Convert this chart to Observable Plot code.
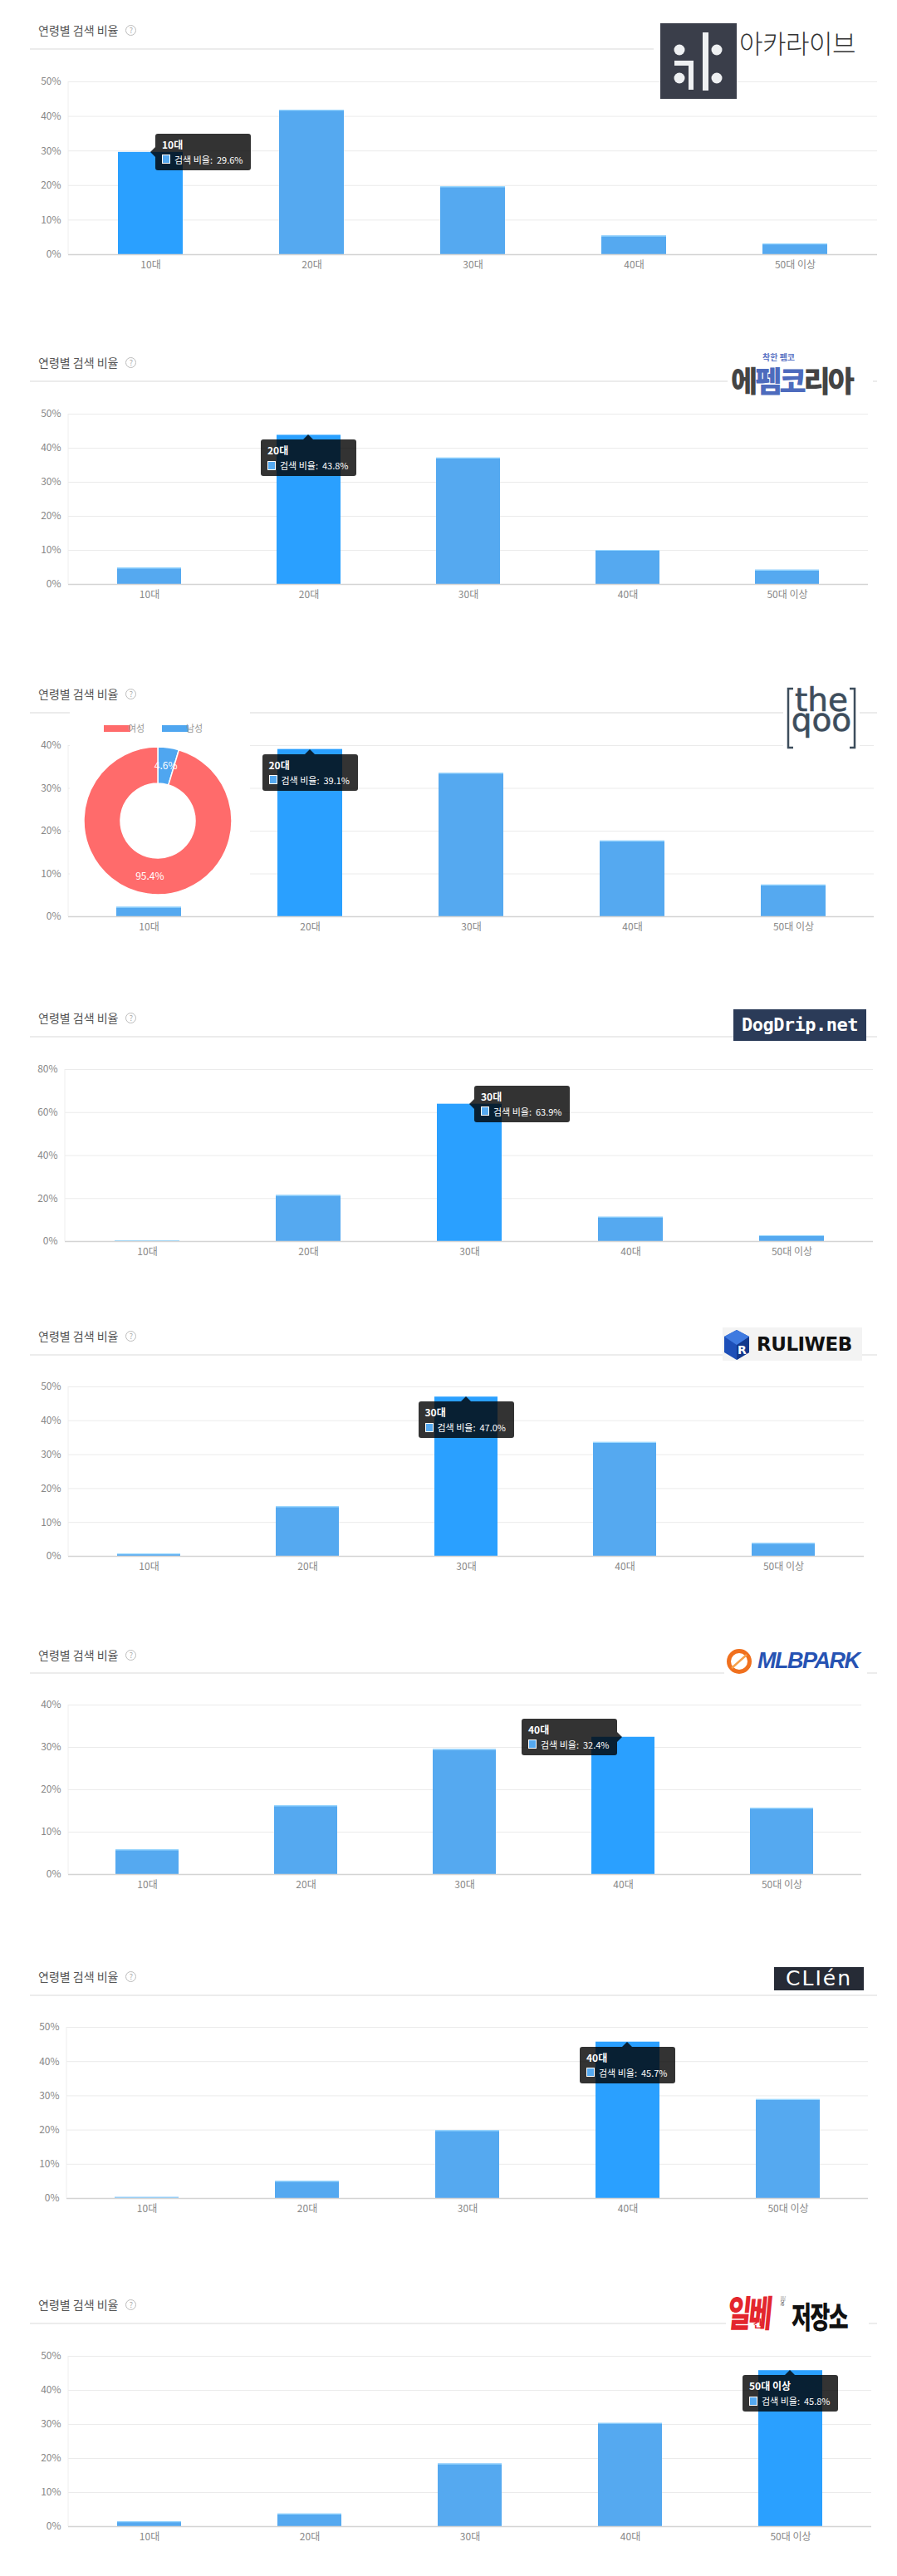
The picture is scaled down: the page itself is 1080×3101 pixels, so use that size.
<!DOCTYPE html>
<html><head><meta charset="utf-8">
<script src="https://cdn.jsdelivr.net/npm/d3@7"></script>
<script src="https://cdn.jsdelivr.net/npm/@observablehq/plot@0.6"></script>
<style>
body{margin:0;background:#fff;font-family:"Noto Sans CJK KR","Noto Sans",sans-serif;}
#page{position:relative;width:1080px;height:3101px;overflow:hidden;background:#fff;}
.abs{position:absolute;}
.title{position:absolute;left:46px;font-size:14px;color:#555;line-height:20px;white-space:nowrap;display:flex;align-items:center;}
.qm{display:inline-block;width:11px;height:11px;border:1px solid #bbb;border-radius:50%;font-size:9px;line-height:11px;text-align:center;color:#aaa;margin-left:9px;}
.hline{position:absolute;left:36px;width:1020px;height:2px;background:#ececec;}
.tip{position:absolute;width:115px;height:44px;box-sizing:border-box;background:rgba(0,0,0,0.8);border-radius:3px;color:#fff;padding:5px 8px;white-space:nowrap;}
.tip .tt{font-size:12px;font-weight:bold;line-height:16px;height:16px;}
.tip .tr{font-size:11px;line-height:16px;margin-top:2px;display:flex;align-items:center;}
.tip .sw{display:inline-block;width:8px;height:9px;background:#55a9f0;border:1px solid #fff;margin-right:5px;}
.arr{position:absolute;width:0;height:0;}
.arr.up{top:-6px;left:51px;border-left:6px solid transparent;border-right:6px solid transparent;border-bottom:6px solid rgba(0,0,0,0.8);}
.arr.left{left:-6px;top:16px;border-top:6px solid transparent;border-bottom:6px solid transparent;border-right:6px solid rgba(0,0,0,0.8);}
.arr.right{right:-6px;top:16px;border-top:6px solid transparent;border-bottom:6px solid transparent;border-left:6px solid rgba(0,0,0,0.8);}
</style></head><body><div id="page"></div>
<script>
// ---- data ----
const ages = ["10대", "20대", "30대", "40대", "50대 이상"];
const arcaValues     = [29.6, 41.8, 19.6, 5.4, 3.1];
const fmkoreaValues  = [4.8, 43.8, 37.1, 10.0, 4.2];
const theqooValues   = [2.2, 39.1, 33.5, 17.7, 7.4];
const dogdripValues  = [0.3, 21.4, 63.9, 11.3, 2.7];
const ruliwebValues  = [0.7, 14.6, 47.0, 33.6, 3.8];
const mlbparkValues  = [5.8, 16.2, 29.5, 32.4, 15.6];
const clienValues    = [0.3, 5.0, 19.8, 45.7, 28.9];
const ilbeValues     = [1.4, 3.7, 18.4, 30.3, 45.8];
const genderLabels = ["여성", "남성"];
const genderValues = [95.4, 4.6];
const ticks50 = [0, 10, 20, 30, 40, 50];
const ticks40 = [0, 10, 20, 30, 40];
const ticks80 = [0, 20, 40, 60, 80];
const titleText = "연령별 검색 비율";
const seriesName = "검색 비율";

// ---- layout ----
const page = document.getElementById("page");
const MT = 60, MB = 40;
const COL = "#55a9f0", HI = "#2aa0ff";
const genderColors = {"여성": "#ff6b6b", "남성": "#4fa6f0"};

const panels = [
  {values: arcaValues, hi: 0, L: 82, R: 1056, top: 98, zero: 306, ticks: ticks50, tip: "left", titleY: 36, lineY: 59},
  {values: fmkoreaValues, hi: 1, L: 82, R: 1045, top: 498, zero: 703, ticks: ticks50, tip: "up", titleY: 436, lineY: 459},
  {values: theqooValues, hi: 1, L: 82, R: 1052, top: 897, zero: 1103, ticks: ticks40, tip: "up", titleY: 835, lineY: 858, donut: true},
  {values: dogdripValues, hi: 2, L: 78, R: 1051, top: 1287, zero: 1494, ticks: ticks80, tip: "left", titleY: 1225, lineY: 1248},
  {values: ruliwebValues, hi: 2, L: 82, R: 1040, top: 1669, zero: 1873, ticks: ticks50, tip: "up", titleY: 1608, lineY: 1631},
  {values: mlbparkValues, hi: 3, L: 82, R: 1037, top: 2052, zero: 2256, ticks: ticks40, tip: "right", titleY: 1992, lineY: 2014},
  {values: clienValues, hi: 3, L: 80, R: 1045, top: 2440, zero: 2646, ticks: ticks50, tip: "up", titleY: 2379, lineY: 2402},
  {values: ilbeValues, hi: 4, L: 82, R: 1049, top: 2836, zero: 3041, ticks: ticks50, tip: "up", titleY: 2774, lineY: 2797}
];

function addHTML(html) {
  const t = document.createElement("template");
  t.innerHTML = html.trim();
  const n = t.content.firstChild;
  page.appendChild(n);
  return n;
}

function donutMark(cfg) {
  const svgTop = cfg.top - MT;
  return function () {
    const g = d3.create("svg:g");
    g.append("rect").attr("x", 84).attr("y", 852 - svgTop).attr("width", 217).attr("height", 236).attr("fill", "#fff");
    const ly = 877 - svgTop;
    const legendX = [125, 195];
    genderLabels.forEach((lab, i) => {
      g.append("rect").attr("x", legendX[i]).attr("y", ly - 4).attr("width", 32).attr("height", 8).attr("fill", genderColors[lab]);
      g.append("text").attr("x", legendX[i] + 39).attr("y", ly).attr("dy", "0.35em")
        .attr("font-size", 11).attr("fill", "#999").text(lab);
    });
    const pieData = genderLabels.map((l, i) => ({label: l, value: genderValues[i]})).reverse();
    const arcs = d3.pie().sort(null).value(d => d.value)(pieData);
    const arc = d3.arc().innerRadius(45).outerRadius(89);
    const lab = d3.arc().innerRadius(67).outerRadius(67);
    const cg = g.append("g").attr("transform", `translate(190,${988 - svgTop})`);
    cg.selectAll("path").data(arcs).join("path").attr("d", arc)
      .attr("fill", d => genderColors[d.data.label]).attr("stroke", "#fff").attr("stroke-width", 1.5);
    cg.selectAll("text").data(arcs).join("text")
      .attr("transform", d => `translate(${lab.centroid(d)})`)
      .attr("text-anchor", "middle").attr("dy", "0.35em").attr("font-size", 12).attr("fill", "#fff")
      .text(d => d.data.value.toFixed(1) + "%");
    return g.node();
  };
}

panels.forEach((cfg, pi) => {
  // title + header line
  addHTML(`<div class="title" style="top:${cfg.titleY - 10}px">${titleText}<span class="qm">?</span></div>`);
  addHTML(`<div class="hline" style="top:${cfg.lineY - 1}px"></div>`);

  const data = ages.map((a, i) => ({age: a, value: cfg.values[i], fill: i === cfg.hi ? HI : COL}));
  const max = cfg.ticks[cfg.ticks.length - 1];
  const height = (cfg.zero - cfg.top) + MT + MB;
  const marks = [
    Plot.ruleY(cfg.ticks.filter(d => d > 0), {stroke: "#ebebeb", strokeWidth: 1}),
    Plot.barY(data, {x: "age", y: "value", fill: "fill"}),
    Plot.tickY(data.filter((d, i) => i !== cfg.hi), {x: "age", y: "value", stroke: "#9ad8ff", strokeWidth: 1.2}),
    Plot.ruleY([0], {stroke: "#d4d4d4", strokeWidth: 1.5}),
    () => d3.create("svg:line").attr("x1", cfg.L).attr("x2", cfg.L).attr("y1", MT).attr("y2", height - MB)
            .attr("stroke", "#eeeeee").attr("stroke-width", 1).node()
  ];
  if (cfg.donut) marks.push(donutMark(cfg));
  const plot = Plot.plot({
    width: 1080, height, marginTop: MT, marginBottom: MB, marginLeft: cfg.L, marginRight: 1080 - cfg.R,
    style: {background: "transparent", fontFamily: '"Noto Sans CJK KR", sans-serif', fontSize: "12px", color: "#888", overflow: "visible"},
    x: {domain: ages, paddingInner: 0.6, paddingOuter: 0.3, label: null, tickSize: 0, tickPadding: 8},
    y: {domain: [0, max], ticks: cfg.ticks, tickFormat: d => d + "%", label: null, tickSize: 0, tickPadding: 9},
    color: {type: "identity"},
    marks
  });
  const svgTop = cfg.top - MT;
  plot.style.position = "absolute";
  plot.style.left = "0px";
  plot.style.top = svgTop + "px";
  page.appendChild(plot);

  // tooltip on the highlighted bar
  const step = (cfg.R - cfg.L) / ages.length;
  let cx = cfg.L + step * (cfg.hi + 0.5);
  let cy = MT + (1 - cfg.values[cfg.hi] / max) * (cfg.zero - cfg.top);
  try {
    const sx = plot.scale("x"), sy = plot.scale("y");
    if (sx && sx.apply && sy && sy.apply) {
      cx = sx.apply(ages[cfg.hi]) + sx.bandwidth / 2;
      cy = sy.apply(cfg.values[cfg.hi]);
    }
  } catch (e) {}
  const py = svgTop + cy;
  let left, top;
  if (cfg.tip === "left") { left = cx + 6; top = py - 22; }
  else if (cfg.tip === "right") { left = cx - 7 - 115; top = py - 22; }
  else { left = cx - 57.5; top = py + 6; }
  addHTML(`<div class="tip" style="left:${left}px;top:${top}px"><div class="tt">${ages[cfg.hi]}</div><div class="tr"><span class="sw"></span>${seriesName}:&nbsp; ${cfg.values[cfg.hi].toFixed(1)}%</div><div class="arr ${cfg.tip}"></div></div>`);
});

// ---- logos ----
// 아카라이브
addHTML(`<div class="abs" style="left:787px;top:20px;width:275px;height:56px;background:#fff"></div>`);
addHTML(`<div class="abs" style="left:795px;top:28px;width:92px;height:91px;background:#3a3e4a"><svg width="92" height="91"><g fill="#eef0f2"><circle cx="23" cy="32" r="6.5"/><circle cx="68" cy="32" r="6.5"/><circle cx="23" cy="66" r="6.5"/><circle cx="68" cy="66" r="6.5"/><rect x="51" y="11" width="7" height="70"/><rect x="17" y="45" width="23" height="6"/><rect x="34" y="45" width="6" height="35"/></g></svg></div>`);
addHTML(`<div class="abs" style="left:890px;top:29px;font-size:31px;font-weight:300;color:#333;letter-spacing:-0.5px;line-height:44px;white-space:nowrap">아카라이브</div>`);
// 에펨코리아
addHTML(`<div class="abs" style="left:876px;top:420px;width:175px;height:57px;background:#fff"></div>`);
addHTML(`<div class="abs" style="left:918px;top:424px;font-size:10px;font-weight:700;color:#5b74c4;line-height:12px;white-space:nowrap">착한 펨코</div>`);
addHTML(`<div class="abs" style="left:880px;top:436px;font-size:35px;font-weight:900;letter-spacing:-3px;line-height:42px;color:#444;white-space:nowrap"><span>에</span><span style="color:#4d6bbd">펨코</span><span>리아</span></div>`);
// theqoo
addHTML(`<div class="abs" style="left:943px;top:824px;width:92px;height:79px;background:#fff"></div>`);
addHTML(`<svg class="abs" style="left:940px;top:817px" width="98" height="95"><g fill="none" stroke="#3d4d5c" stroke-width="2.5"><path d="M15,12 H9 V83 H15"/><path d="M83,12 H89 V83 H83"/></g></svg>`);
addHTML(`<div class="abs" style="left:949px;top:831px;width:80px;text-align:center;font-family:'DejaVu Sans',sans-serif;font-size:39px;line-height:24px;color:#3d4d5c;-webkit-text-stroke:0.6px #3d4d5c;white-space:pre-line">the
qoo</div>`);
// DogDrip.net
addHTML(`<div class="abs" style="left:883px;top:1215px;width:160px;height:38px;background:#2b3b58;color:#fff;font-family:'DejaVu Sans Mono',monospace;font-weight:bold;font-size:22px;line-height:38px;text-align:center;letter-spacing:-0.5px">DogDrip.net</div>`);
// RULIWEB
addHTML(`<div class="abs" style="left:870px;top:1598px;width:168px;height:40px;background:#f3f3f3"></div>`);
addHTML(`<svg class="abs" style="left:871px;top:1600px" width="34" height="38"><polygon points="16,1 31,9 31,28 16,37 1,28 1,9" fill="#1d4fb8"/><polygon points="16,19 31,9 31,28 16,37" fill="#13388c"/><polygon points="16,1 31,9 16,19 1,9" fill="#3f7ae0"/><text x="17" y="30" font-family="DejaVu Sans" font-weight="bold" font-size="14" fill="#fff">R</text></svg>`);
addHTML(`<div class="abs" style="left:911px;top:1598px;font-family:'DejaVu Sans',sans-serif;font-weight:bold;font-size:23px;line-height:40px;color:#111;letter-spacing:-0.5px">RULIWEB</div>`);
// MLBPARK
addHTML(`<div class="abs" style="left:872px;top:1982px;width:172px;height:34px;background:#fff"></div>`);
addHTML(`<svg class="abs" style="left:873px;top:1984px" width="36" height="32"><circle cx="17" cy="16" r="12.5" fill="#fff" stroke="#f0701e" stroke-width="5"/><path d="M8,24 L26,8" stroke="#f6a04a" stroke-width="2.5"/></svg>`);
addHTML(`<div class="abs" style="left:912px;top:1982px;font-family:'Liberation Sans',sans-serif;font-weight:bold;font-style:italic;font-size:27px;line-height:34px;color:#2753b3;letter-spacing:-1.5px">MLBPARK</div>`);
// CLIEN
addHTML(`<div class="abs" style="left:932px;top:2368px;width:108px;height:28px;background:#262b36;color:#fff;font-family:'DejaVu Sans',sans-serif;font-size:25px;line-height:28px;text-align:center;letter-spacing:2px">CLIén</div>`);
// 일베 저장소
addHTML(`<div class="abs" style="left:874px;top:2758px;width:172px;height:50px;background:#fff"></div>`);
addHTML(`<div class="abs" style="left:879px;top:2757px;font-size:44px;font-weight:900;color:#e3262d;line-height:50px;letter-spacing:-4px;transform:scaleX(0.7) skewX(-8deg);transform-origin:left top;white-space:nowrap">일베</div>`);
addHTML(`<div class="abs" style="left:907px;top:2790px;font-size:12px;font-weight:700;color:#e3262d;line-height:14px">간</div>`);
addHTML(`<div class="abs" style="left:939px;top:2764px;font-size:7px;color:#555;line-height:8px;writing-mode:vertical-rl">ilbe</div>`);
addHTML(`<div class="abs" style="left:953px;top:2765px;font-size:36px;font-weight:900;color:#111;line-height:44px;letter-spacing:-2px;transform:scaleX(0.72);transform-origin:left top;white-space:nowrap">저장소</div>`);
</script></body></html>
